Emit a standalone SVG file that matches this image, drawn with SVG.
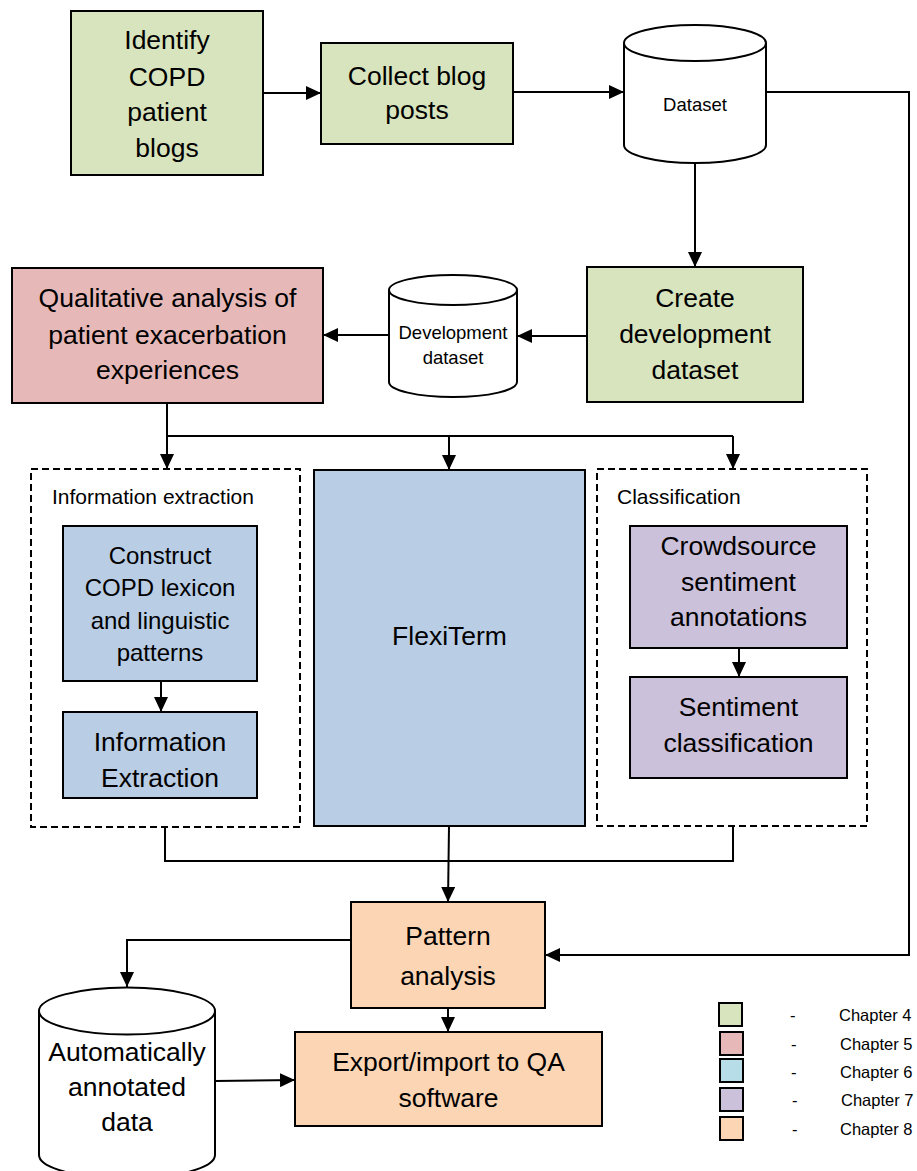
<svg xmlns="http://www.w3.org/2000/svg" width="917" height="1171" viewBox="0 0 917 1171">
<style>
text{font-family:"Liberation Sans",Arial,sans-serif;fill:#000;dominant-baseline:central}
.t{font-size:26.5px;text-anchor:middle}
.m{font-size:24px;text-anchor:middle}
.s{font-size:18.5px;text-anchor:middle}
.l{font-size:21px}
.g{font-size:16.5px}
.box{stroke:#000;stroke-width:2}
.green{fill:#D7E4BD}.pink{fill:#E6B9B8}.blue{fill:#B9CDE5}.cyan{fill:#B7DEE8}.purple{fill:#CCC1DA}.orange{fill:#FCD5B5}
.cyl{fill:#fff;stroke:#000;stroke-width:2}
.dash{fill:none;stroke:#000;stroke-width:2;stroke-dasharray:7,4}
.c{fill:none;stroke:#000;stroke-width:2}
.a{marker-end:url(#ah)}
</style>
<defs>
<marker id="ah" markerUnits="userSpaceOnUse" markerWidth="15" markerHeight="14" refX="15" refY="7" orient="auto">
<path d="M0,0 L15,7 L0,14 z" fill="#000"/>
</marker>
</defs>

<g id="connectors">
<path class="c a" d="M263,93 H321"/>
<path class="c a" d="M513,92 H624"/>
<path class="c a" d="M695,163 V267"/>
<path class="c a" d="M765,92 H909 V955 H545"/>
<path class="c a" d="M587,336 H517"/>
<path class="c a" d="M389,335 H323"/>
<path class="c" d="M167,403 V436 H733"/>
<path class="c a" d="M167,436 V469"/>
<path class="c a" d="M449,436 V470"/>
<path class="c a" d="M733,436 V469"/>
<path class="c a" d="M161,681 V712"/>
<path class="c a" d="M739,648 V677"/>
<path class="c" d="M165,827 V861 H733 V826"/>
<path class="c a" d="M449,826 L448,902"/>
<path class="c a" d="M351,940 H127 V987"/>
<path class="c a" d="M448,1008 V1032"/>
<path class="c a" d="M215,1081 L295,1080"/>
</g>

<g id="identify">
<rect class="box green" x="71" y="11" width="192" height="164"/>
<text class="t" x="167" y="40">Identify</text>
<text class="t" x="167" y="77">COPD</text>
<text class="t" x="167" y="112">patient</text>
<text class="t" x="167" y="148">blogs</text>
</g>

<g id="collect">
<rect class="box green" x="321" y="43" width="192" height="101"/>
<text class="t" x="417" y="76">Collect blog</text>
<text class="t" x="417" y="110">posts</text>
</g>

<g id="dataset">
<path class="cyl" d="M624,43 V145 A71,18 0 0 0 766,145 V43"/>
<ellipse class="cyl" cx="695" cy="43" rx="71" ry="18"/>
<text class="s" x="695" y="104">Dataset</text>
</g>

<g id="create">
<rect class="box green" x="587" y="267" width="216" height="135"/>
<text class="t" x="695" y="298">Create</text>
<text class="t" x="695" y="334">development</text>
<text class="t" x="695" y="370">dataset</text>
</g>

<g id="devdataset">
<path class="cyl" d="M389,290 V382 A64,15 0 0 0 517,382 V290"/>
<ellipse class="cyl" cx="453" cy="290" rx="64" ry="15"/>
<text class="s" x="453" y="332">Development</text>
<text class="s" x="453" y="357">dataset</text>
</g>

<g id="qualitative">
<rect class="box pink" x="12" y="268" width="311" height="135"/>
<text class="t" x="167.5" y="298">Qualitative analysis of</text>
<text class="t" x="167.5" y="335">patient exacerbation</text>
<text class="t" x="167.5" y="370">experiences</text>
</g>

<g id="infoextraction-group">
<rect class="dash" x="31" y="469" width="269" height="358"/>
<text class="l" x="52" y="496">Information extraction</text>
</g>

<g id="construct">
<rect class="box blue" x="63" y="526" width="194" height="155"/>
<text class="m" x="160" y="555">Construct</text>
<text class="m" x="160" y="587">COPD lexicon</text>
<text class="m" x="160" y="620">and linguistic</text>
<text class="m" x="160" y="652">patterns</text>
</g>

<g id="infoextraction">
<rect class="box blue" x="63" y="712" width="194" height="86"/>
<text class="t" x="160" y="742">Information</text>
<text class="t" x="160" y="778">Extraction</text>
</g>

<g id="flexiterm">
<rect class="box blue" x="314" y="470" width="271" height="356"/>
<text class="t" x="449.5" y="636">FlexiTerm</text>
</g>

<g id="classification-group">
<rect class="dash" x="597" y="469" width="270" height="357"/>
<text class="l" x="617" y="496">Classification</text>
</g>

<g id="crowdsource">
<rect class="box purple" x="630" y="526" width="217" height="122"/>
<text class="t" x="738.5" y="546">Crowdsource</text>
<text class="t" x="738.5" y="582">sentiment</text>
<text class="t" x="738.5" y="617">annotations</text>
</g>

<g id="sentiment">
<rect class="box purple" x="630" y="677" width="217" height="101"/>
<text class="t" x="738.5" y="707">Sentiment</text>
<text class="t" x="738.5" y="743">classification</text>
</g>

<g id="pattern">
<rect class="box orange" x="351" y="902" width="194" height="106"/>
<text class="t" x="448" y="936">Pattern</text>
<text class="t" x="448" y="976">analysis</text>
</g>

<g id="export">
<rect class="box orange" x="295" y="1032" width="307" height="94"/>
<text class="t" x="448.5" y="1062">Export/import to QA</text>
<text class="t" x="448.5" y="1098">software</text>
</g>

<g id="autodata">
<path class="cyl" d="M39,1011 V1155 A88,23.5 0 0 0 215,1155 V1011"/>
<ellipse class="cyl" cx="127" cy="1011" rx="88" ry="23.5"/>
<text class="t" x="127" y="1052">Automatically</text>
<text class="t" x="127" y="1087">annotated</text>
<text class="t" x="127" y="1122">data</text>
</g>

<g id="legend">
<rect class="box green" x="719" y="1003" width="23" height="23"/>
<rect class="box pink" x="720" y="1032" width="23" height="23"/>
<rect class="box cyan" x="720" y="1059" width="23" height="23"/>
<rect class="box purple" x="720" y="1088" width="23" height="23"/>
<rect class="box orange" x="720" y="1117" width="23" height="23"/>
<text class="g" x="790" y="1015">-</text>
<text class="g" x="791" y="1044">-</text>
<text class="g" x="791" y="1072">-</text>
<text class="g" x="792" y="1100">-</text>
<text class="g" x="792" y="1129">-</text>
<text class="g" x="839" y="1015">Chapter 4</text>
<text class="g" x="840" y="1044">Chapter 5</text>
<text class="g" x="840" y="1072">Chapter 6</text>
<text class="g" x="841" y="1100">Chapter 7</text>
<text class="g" x="840" y="1129">Chapter 8</text>
</g>
</svg>
